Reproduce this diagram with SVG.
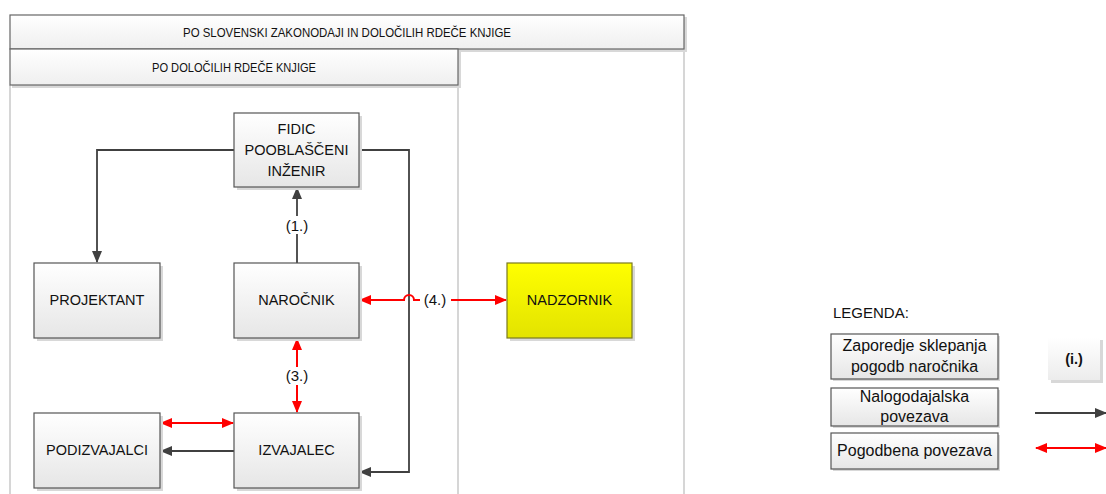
<svg xmlns="http://www.w3.org/2000/svg" width="1106" height="494" viewBox="0 0 1106 494">
<style>
.box{fill:url(#g);stroke:#555;stroke-width:1.2}
.shadow{fill:#d8d8d8}
.hdr{fill:url(#gh);stroke:#666;stroke-width:1.2}
.t{font-family:"Liberation Sans",Arial,sans-serif;font-size:14.5px;fill:#111;text-anchor:middle}
.lb{font-family:"Liberation Sans",Arial,sans-serif;font-size:15px;fill:#111;text-anchor:middle}
.ht{font-family:"Liberation Sans",Arial,sans-serif;font-size:12px;fill:#111;text-anchor:middle}
.lt{font-family:"Liberation Sans",Arial,sans-serif;font-size:16px;fill:#111;text-anchor:middle}
.dk{stroke:#404040;stroke-width:1.8;fill:none}
.rd{stroke:#ff0000;stroke-width:2;fill:none}
.cont{stroke:#c8c8c8;stroke-width:1.5;fill:none}
</style>
<defs>
<linearGradient id="g" x1="0" y1="0" x2="0" y2="1">
<stop offset="0" stop-color="#ffffff"/><stop offset="1" stop-color="#e6e6e6"/>
</linearGradient>
<linearGradient id="gh" x1="0" y1="0" x2="0" y2="1">
<stop offset="0" stop-color="#ffffff"/><stop offset="1" stop-color="#efefef"/>
</linearGradient>
<linearGradient id="gy" x1="0" y1="0" x2="0" y2="1">
<stop offset="0" stop-color="#ffff00"/><stop offset="1" stop-color="#e3e300"/>
</linearGradient>
<linearGradient id="gi" x1="0" y1="0" x2="0" y2="1">
<stop offset="0" stop-color="#ffffff"/><stop offset="1" stop-color="#ececec"/>
</linearGradient>
<marker id="ad" markerUnits="userSpaceOnUse" markerWidth="12" markerHeight="12" viewBox="0 0 12 12" refX="11" refY="6" orient="auto">
<path d="M0,1 L12,6 L0,11 Z" fill="#404040"/>
</marker>
<marker id="ar" markerUnits="userSpaceOnUse" markerWidth="12" markerHeight="12" viewBox="0 0 12 12" refX="11" refY="6" orient="auto">
<path d="M0,1 L12,6 L0,11 Z" fill="#ff0000"/>
</marker>
<marker id="ars" markerUnits="userSpaceOnUse" markerWidth="12" markerHeight="12" viewBox="0 0 12 12" refX="1" refY="6" orient="auto">
<path d="M12,1 L0,6 L12,11 Z" fill="#ff0000"/>
</marker>
</defs>
<rect width="1106" height="494" fill="#ffffff"/>

<g id="containers">
<line class="cont" x1="10" y1="85" x2="10" y2="494"/>
<line class="cont" x1="458" y1="85" x2="458" y2="494"/>
<line class="cont" x1="684" y1="49" x2="684" y2="494"/>
</g>

<g id="header1">
<rect class="shadow" x="12" y="17" width="675" height="35"/>
<rect class="hdr" x="10" y="15" width="674" height="34"/>
<text class="ht" x="347" y="37" textLength="328" lengthAdjust="spacingAndGlyphs">PO SLOVENSKI ZAKONODAJI IN DOLOČILIH RDEČE KNJIGE</text>
</g>
<g id="header2">
<rect class="shadow" x="12" y="51" width="449" height="37"/>
<rect class="hdr" x="10" y="49" width="448" height="36"/>
<text class="ht" x="234" y="72" textLength="164" lengthAdjust="spacingAndGlyphs">PO DOLOČILIH RDEČE KNJIGE</text>
</g>

<g id="connectors">
<path class="dk" d="M234,150 H97 V262" marker-end="url(#ad)"/>
<path class="dk" d="M359,150 H409 V472 H360" marker-end="url(#ad)"/>
<path class="dk" d="M297,263 V188" marker-end="url(#ad)"/>
<path class="dk" d="M234,451 H161" marker-end="url(#ad)"/>
<path class="rd" d="M297,339 V412" marker-start="url(#ars)" marker-end="url(#ar)"/>
<path class="rd" d="M161,423 H233" marker-start="url(#ars)" marker-end="url(#ar)"/>
<path class="rd" d="M360,300 H404 A5,5 0 0 1 414,300 H506" marker-start="url(#ars)" marker-end="url(#ar)"/>
<rect x="284" y="216" width="26" height="18" fill="#ffffff"/>
<text class="lb" x="297" y="231">(1.)</text>
<rect x="284" y="367" width="26" height="18" fill="#ffffff"/>
<text class="lb" x="297" y="381">(3.)</text>
<rect x="420" y="291" width="31" height="18" fill="#ffffff"/>
<text class="lb" x="435" y="305">(4.)</text>
</g>

<g id="fidic">
<rect class="shadow" x="237" y="116" width="125" height="74"/>
<rect class="box" x="234" y="113" width="125" height="74"/>
<text class="t" x="296.5" y="134">FIDIC</text>
<text class="t" x="296.5" y="155">POOBLAŠČENI</text>
<text class="t" x="296.5" y="176">INŽENIR</text>
</g>
<g id="projektant">
<rect class="shadow" x="37" y="266" width="126" height="75"/>
<rect class="box" x="34" y="263" width="126" height="75"/>
<text class="t" x="97" y="305">PROJEKTANT</text>
</g>
<g id="narocnik">
<rect class="shadow" x="237" y="266" width="125" height="75"/>
<rect class="box" x="234" y="263" width="125" height="75"/>
<text class="t" x="296.5" y="305">NAROČNIK</text>
</g>
<g id="nadzornik">
<rect class="shadow" x="510" y="266" width="125" height="75"/>
<rect x="507" y="263" width="125" height="75" fill="url(#gy)" stroke="#7a7a20" stroke-width="1.2"/>
<text class="t" x="569.5" y="305">NADZORNIK</text>
</g>
<g id="podizvajalci">
<rect class="shadow" x="37" y="416" width="126" height="75"/>
<rect class="box" x="34" y="413" width="126" height="75"/>
<text class="t" x="97" y="455">PODIZVAJALCI</text>
</g>
<g id="izvajalec">
<rect class="shadow" x="237" y="416" width="125" height="75"/>
<rect class="box" x="234" y="413" width="125" height="75"/>
<text class="t" x="296.5" y="455">IZVAJALEC</text>
</g>

<g id="legend">
<text x="833" y="318" font-family="'Liberation Sans',Arial,sans-serif" font-size="15" fill="#111">LEGENDA:</text>
<rect class="shadow" x="833" y="336" width="167" height="45"/>
<rect class="box" x="831" y="334" width="167" height="45"/>
<text class="lt" x="914.5" y="351">Zaporedje sklepanja</text>
<text class="lt" x="914.5" y="372">pogodb naročnika</text>
<rect class="shadow" x="833" y="390" width="167" height="38"/>
<rect class="box" x="831" y="388" width="167" height="38"/>
<text class="lt" x="914.5" y="402">Nalogodajalska</text>
<text class="lt" x="914.5" y="422">povezava</text>
<rect class="shadow" x="833" y="435" width="167" height="36"/>
<rect class="box" x="831" y="433" width="167" height="36"/>
<text class="lt" x="914.5" y="456">Pogodbena povezava</text>
<rect class="shadow" x="1051" y="340" width="52" height="43"/>
<rect x="1048" y="337" width="52" height="43" fill="url(#gi)"/>
<text x="1074" y="364" font-family="'Liberation Sans',Arial,sans-serif" font-size="14.5" font-weight="bold" fill="#111" text-anchor="middle">(i.)</text>
<path class="dk" d="M1035,413 H1106" marker-end="url(#ad)"/>
<path class="rd" d="M1036,448 H1106" marker-start="url(#ars)" marker-end="url(#ar)"/>
</g>
</svg>
